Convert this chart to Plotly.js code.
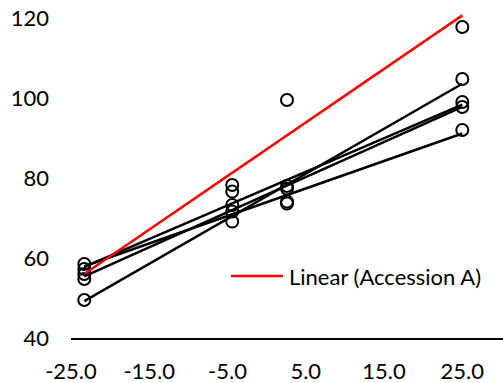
<!DOCTYPE html>
<html>
<head>
<meta charset="utf-8">
<script src="https://cdn.plot.ly/plotly-3.0.1.min.js"></script>
<style>
  html, body { margin: 0; padding: 0; background: #fff; }
  #chart { width: 503px; height: 383px; }
</style>
</head>
<body>
<div id="chart"></div>
<script>
// Temperature levels shared by every accession
const temps = [-23.3, -4.4, 2.6, 25];

// Measured values per accession
const accessionA = [54.75, 76.6, 99.5, 117.75];
const accessionB = [49.5, 73.25, 74.1, 104.75];
const accessionC = [56, 78.25, 77.3, 97.75];
const accessionD = [57.25, 69.1, 78, 99];
const accessionE = [58.5, 71.6, 73.6, 92];

const seriesNames = ['Accession A', 'Accession B', 'Accession C', 'Accession D', 'Accession E'];
const seriesValues = [accessionA, accessionB, accessionC, accessionD, accessionE];

// Axis ticks
const xTickVals = [-25, -15, -5, 5, 15, 25];
const xTickText = ['-25.0', '-15.0', '-5.0', '5.0', '15.0', '25.0'];
const yTickVals = [40, 60, 80, 100, 120];

const FONT = 'Lato, "Liberation Sans", sans-serif';
const FSIZE = 22;

// Ordinary least-squares fit, evaluated over the data's x extent
function linearFit(xs, ys) {
  const n = xs.length;
  const mx = xs.reduce((s, v) => s + v, 0) / n;
  const my = ys.reduce((s, v) => s + v, 0) / n;
  let sxy = 0, sxx = 0;
  for (let i = 0; i < n; i++) {
    sxy += (xs[i] - mx) * (ys[i] - my);
    sxx += (xs[i] - mx) * (xs[i] - mx);
  }
  const slope = sxy / sxx;
  const icpt = my - slope * mx;
  const x0 = Math.min(...xs), x1 = Math.max(...xs);
  return { x: [x0, x1], y: [icpt + slope * x0, icpt + slope * x1] };
}

const traces = [];

// Open circle markers for every accession
seriesValues.forEach((vals, i) => {
  traces.push({
    type: 'scatter', mode: 'markers', name: seriesNames[i],
    x: temps, y: vals, showlegend: false, cliponaxis: false,
    marker: { symbol: 'circle-open', size: 12, color: '#000', line: { width: 2, color: '#000' } },
    hoverinfo: 'skip'
  });
});

// Black trendlines for the other accessions
seriesValues.forEach((vals, i) => {
  if (i === 0) return;
  const f = linearFit(temps, vals);
  traces.push({
    type: 'scatter', mode: 'lines', name: 'Linear (' + seriesNames[i] + ')',
    x: f.x, y: f.y, showlegend: false,
    line: { color: '#000', width: 2.5 }, hoverinfo: 'skip'
  });
});

// Red trendline for Accession A
const fitA = linearFit(temps, accessionA);
traces.push({
  type: 'scatter', mode: 'lines', name: 'Linear (Accession A)',
  x: fitA.x, y: fitA.y, showlegend: false,
  line: { color: '#ff0000', width: 2.5 }, hoverinfo: 'skip'
});

const layout = {
  width: 503, height: 383,
  margin: { l: 71, r: 0, t: 0, b: 45 },
  paper_bgcolor: '#fff', plot_bgcolor: '#fff',
  font: { family: FONT, size: FSIZE, color: '#000' },
  showlegend: false,
  xaxis: {
    range: [-25, 30.2], tickvals: xTickVals, ticktext: xTickText,
    showgrid: false, zeroline: false, ticks: '',
    showline: true, linecolor: '#000', linewidth: 1.75,
    ticklabelstandoff: 13, tickfont: { family: FONT, size: FSIZE, color: '#000' }
  },
  yaxis: {
    range: [40, 124.5], tickvals: yTickVals,
    showgrid: false, zeroline: false, ticks: '', showline: false,
    ticklabelstandoff: 21, tickfont: { family: FONT, size: FSIZE, color: '#000' }
  },
  // Legend entry for the Accession A trendline
  shapes: [{
    type: 'line', xref: 'paper', yref: 'paper',
    x0: (231 - 71) / 432, x1: (283 - 71) / 432,
    y0: (338 - 276) / 338, y1: (338 - 276) / 338,
    line: { color: '#ff0000', width: 2.5 }
  }],
  annotations: [{
    xref: 'paper', yref: 'paper', x: (287 - 71) / 432, y: (338 - 276) / 338,
    xanchor: 'left', yanchor: 'middle', showarrow: false,
    text: 'Linear (Accession A)', font: { family: FONT, size: FSIZE, color: '#000' }
  }]
};

Plotly.newPlot('chart', traces, layout, { staticPlot: true, displayModeBar: false });
</script>
</body>
</html>
